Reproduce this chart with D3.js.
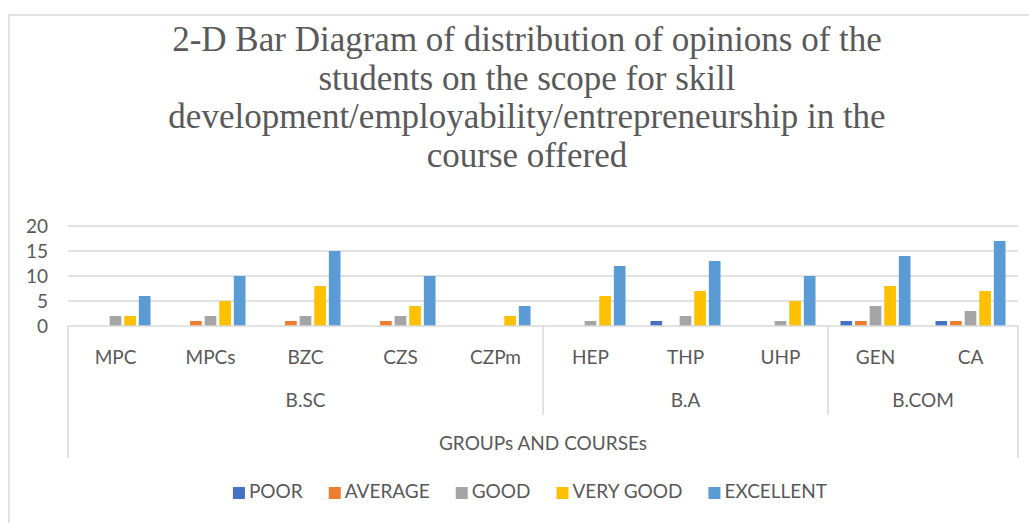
<!DOCTYPE html>
<html>
<head>
<meta charset="utf-8">
<script src="https://cdn.jsdelivr.net/npm/d3@7"></script>
<style>
  html, body { margin: 0; padding: 0; background: #fff; }
  svg { display: block; }
</style>
</head>
<body>
<script>
// Courses, grouped by programme
const courses = ["MPC", "MPCs", "BZC", "CZS", "CZPm", "HEP", "THP", "UHP", "GEN", "CA"];
const groups = [
  { name: "B.SC", from: 0, to: 5 },
  { name: "B.A", from: 5, to: 8 },
  { name: "B.COM", from: 8, to: 10 }
];
const opinions = ["POOR", "AVERAGE", "GOOD", "VERY GOOD", "EXCELLENT"];

// Number of students per opinion, one value per course
const poor      = [0, 0, 0, 0, 0, 0, 1, 0, 1, 1];
const average   = [0, 1, 1, 1, 0, 0, 0, 0, 1, 1];
const good      = [2, 2, 2, 2, 0, 1, 2, 1, 4, 3];
const veryGood  = [2, 5, 8, 4, 2, 6, 7, 5, 8, 7];
const excellent = [6, 10, 15, 10, 4, 12, 13, 10, 14, 17];

const yTicks = [0, 5, 10, 15, 20];
const colors = ["#4472C4", "#ED7D31", "#A5A5A5", "#FFC000", "#5B9BD5"];

const titleLines = [
  "2-D Bar Diagram of distribution of opinions of the",
  "students on the scope for skill",
  "development/employability/entrepreneurship in the",
  "course offered"
];
const axisTitle = "GROUPs AND COURSEs";

const series = [poor, average, good, veryGood, excellent];

const W = 1029, H = 523;
const textColor = "#595959";
const gridColor = "#d9d9d9";
const sans = "Lato, 'Open Sans', sans-serif";

const svg = d3.select("body").append("svg")
  .attr("width", W).attr("height", H);

// chart frame
svg.append("rect")
  .attr("x", 9).attr("y", 15)
  .attr("width", 1200).attr("height", 700)
  .attr("fill", "none").attr("stroke", gridColor).attr("stroke-width", 1.5);

// title
const title = svg.append("text")
  .attr("text-anchor", "middle")
  .attr("font-family", "'Liberation Serif', 'Times New Roman', serif")
  .attr("font-size", 35)
  .attr("fill", textColor);
titleLines.forEach((t, i) => {
  title.append("tspan").attr("x", 527).attr("y", 51 + i * 38.5).text(t);
});

const plot = { left: 68, right: 1018, top: 226, bottom: 326 };

const x = d3.scaleBand()
  .domain(courses)
  .range([plot.left, plot.right])
  .paddingInner(0.263)
  .paddingOuter(0.1315);

const xSub = d3.scaleBand()
  .domain(opinions)
  .range([0, x.bandwidth()])
  .paddingInner(0.2);

const y = d3.scaleLinear()
  .domain([0, 20])
  .range([plot.bottom, plot.top]);

// gridlines
svg.append("g")
  .selectAll("line")
  .data(yTicks.filter(d => d > 0))
  .join("line")
  .attr("x1", plot.left).attr("x2", plot.right)
  .attr("y1", d => y(d)).attr("y2", d => y(d))
  .attr("stroke", gridColor).attr("stroke-width", 1.3);

// y axis labels
const yAxis = svg.append("g")
  .attr("transform", `translate(${plot.left - 20},0)`)
  .call(d3.axisLeft(y).tickValues(yTicks).tickSize(0).tickPadding(0));
yAxis.select(".domain").remove();
yAxis.selectAll("text")
  .attr("font-family", sans)
  .attr("font-size", 19)
  .attr("fill", textColor);

// bars
const barGroups = svg.append("g")
  .selectAll("g")
  .data(series)
  .join("g")
  .attr("fill", (d, i) => colors[i]);

barGroups.each(function (vals, si) {
  d3.select(this).selectAll("rect")
    .data(vals.map((v, ci) => ({ v, c: courses[ci] })).filter(d => d.v > 0))
    .join("rect")
    .attr("x", d => x(d.c) + xSub(opinions[si]))
    .attr("width", xSub.bandwidth())
    .attr("y", d => y(d.v))
    .attr("height", d => y(0) - y(d.v));
});

// category axis: base line and multi-level frame
const axisG = svg.append("g").attr("stroke", gridColor).attr("stroke-width", 1.5);
axisG.append("line")
  .attr("x1", plot.left).attr("x2", plot.right)
  .attr("y1", y(0)).attr("y2", y(0));
const step = x.step();
const edge = i => plot.left + i * step;
axisG.append("line")
  .attr("x1", edge(0)).attr("x2", edge(0))
  .attr("y1", y(0)).attr("y2", 458);
axisG.append("line")
  .attr("x1", edge(courses.length)).attr("x2", edge(courses.length))
  .attr("y1", y(0)).attr("y2", 458);
axisG.selectAll("line.sep")
  .data(groups.slice(1))
  .join("line")
  .attr("class", "sep")
  .attr("x1", d => edge(d.from)).attr("x2", d => edge(d.from))
  .attr("y1", y(0)).attr("y2", 415);

// course labels
svg.append("g")
  .selectAll("text")
  .data(courses)
  .join("text")
  .attr("x", d => x(d) + x.bandwidth() / 2)
  .attr("y", 364)
  .attr("text-anchor", "middle")
  .attr("font-family", sans)
  .attr("font-size", 19)
  .attr("fill", textColor)
  .text(d => d);

// group labels
svg.append("g")
  .selectAll("text")
  .data(groups)
  .join("text")
  .attr("x", d => (edge(d.from) + edge(d.to)) / 2)
  .attr("y", 407)
  .attr("text-anchor", "middle")
  .attr("font-family", sans)
  .attr("font-size", 19)
  .attr("fill", textColor)
  .text(d => d.name);

// axis title
svg.append("text")
  .attr("x", (plot.left + plot.right) / 2)
  .attr("y", 450)
  .attr("text-anchor", "middle")
  .attr("font-family", sans)
  .attr("font-size", 19)
  .attr("fill", textColor)
  .text(axisTitle);

// legend
const legend = svg.append("g");
const items = legend.selectAll("g")
  .data(opinions)
  .join("g");
items.append("rect")
  .attr("width", 12).attr("height", 12)
  .attr("y", -11)
  .attr("fill", (d, i) => colors[i]);
items.append("text")
  .attr("x", 16)
  .attr("font-family", sans)
  .attr("font-size", 19)
  .attr("fill", textColor)
  .text(d => d);
const widths = [];
items.each(function () {
  widths.push(this.getBBox().width);
});
const gap = 26;
const total = d3.sum(widths) + gap * (widths.length - 1);
let cursor = 530 - total / 2;
items.attr("transform", (d, i) => {
  const tx = cursor;
  cursor += widths[i] + gap;
  return `translate(${tx},498)`;
});
</script>
</body>
</html>
